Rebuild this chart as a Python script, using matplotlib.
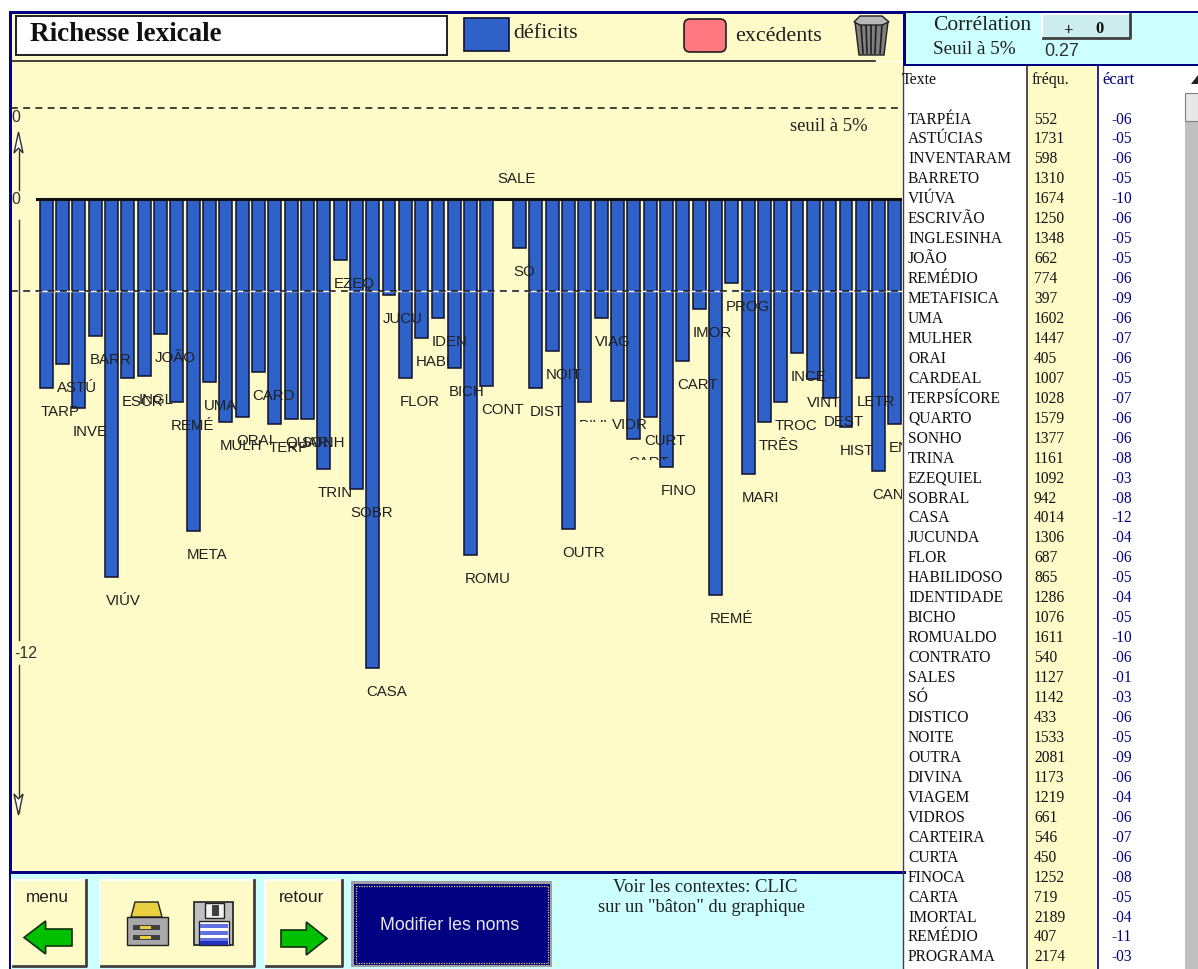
"""Richesse lexicale screen: deficit bars, word table and window controls."""

import matplotlib
matplotlib.use("Agg")
import matplotlib.pyplot as plt
from matplotlib.patches import Rectangle, Polygon, FancyBboxPatch

# Bars (including the ones beyond the visible part of the table)
bar_labels = [
    "TARP", "ASTÚ", "INVE", "BARR", "VIÚV", "ESCR", "INGL", "JOÃO", "REMÉ", "META",
    "UMA", "MULH", "ORAI", "CARD", "TERP", "QUAR", "SONH", "TRIN", "EZEQ", "SOBR",
    "CASA", "JUCU", "FLOR", "HABI", "IDEN", "BICH", "ROMU", "CONT", "SALE", "SÓ",
    "DIST", "NOIT", "OUTR", "DIVI", "VIAG", "VIDR", "CART", "CURT", "FINO", "CART",
    "IMOR", "REMÉ", "PROG", "MARI", "TRÊS", "TROC", "INCE", "VINT", "DEST", "HIST",
    "LETR", "CANT", "ENTR",
]
bar_values = [
    -4.84, -4.22, -5.35, -3.51, -9.67, -4.58, -4.53, -3.45, -5.19, -8.50,
    -4.68, -5.71, -5.58, -4.43, -5.76, -5.63, -5.63, -6.91, -1.56, -7.42,
    -12.00, -2.46, -4.58, -3.56, -3.05, -4.32, -9.11, -4.79, 0.0, -1.25,
    -4.84, -3.89, -8.44, -5.19, -3.05, -5.17, -6.14, -5.58, -6.86, -4.15,
    -2.81, -10.13, -2.15, -7.04, -5.71, -5.19, -3.94, -4.61, -5.09, -5.83,
    -4.58, -6.96, -5.76,
]
threshold_high = 2.33
threshold_low = -2.36

# Side table
table_words = [
    "TARPÉIA", "ASTÚCIAS", "INVENTARAM", "BARRETO", "VIÚVA", "ESCRIVÃO", "INGLESINHA",
    "JOÃO", "REMÉDIO", "METAFISICA", "UMA", "MULHER", "ORAI", "CARDEAL", "TERPSÍCORE",
    "QUARTO", "SONHO", "TRINA", "EZEQUIEL", "SOBRAL", "CASA", "JUCUNDA", "FLOR",
    "HABILIDOSO", "IDENTIDADE", "BICHO", "ROMUALDO", "CONTRATO", "SALES", "SÓ",
    "DISTICO", "NOITE", "OUTRA", "DIVINA", "VIAGEM", "VIDROS", "CARTEIRA", "CURTA",
    "FINOCA", "CARTA", "IMORTAL", "REMÉDIO", "PROGRAMA",
]
table_freq = [
    552, 1731, 598, 1310, 1674, 1250, 1348, 662, 774, 397, 1602, 1447, 405, 1007, 1028,
    1579, 1377, 1161, 1092, 942, 4014, 1306, 687, 865, 1286, 1076, 1611, 540, 1127, 1142,
    433, 1533, 2081, 1173, 1219, 661, 546, 450, 1252, 719, 2189, 407, 2174,
]
table_gap = [
    "-06", "-05", "-06", "-05", "-10", "-06", "-05", "-05", "-06", "-09", "-06", "-07",
    "-06", "-05", "-07", "-06", "-06", "-08", "-03", "-08", "-12", "-04", "-06", "-05",
    "-04", "-05", "-10", "-06", "-01", "-03", "-06", "-05", "-09", "-06", "-04", "-06",
    "-07", "-06", "-08", "-05", "-04", "-11", "-03",
]

YELLOW = "#FFFBC8"
CYAN = "#CCFFFF"
NAVY = "#000080"
BLUE = "#2F62C8"
SERIF = "Liberation Serif"
SANS = "Liberation Sans"
W, H = 1198, 969


def rect(ax, x0, y0, x1, y1, color, edge="none", lw=1.0, z=1):
    ax.add_patch(Rectangle((x0, y0), x1 - x0, y1 - y0, facecolor=color, edgecolor=edge, linewidth=lw, zorder=z))


def button(ax, x0, y0, x1, y1, color=YELLOW):
    rect(ax, x0, y0, x1, y1, color, z=2)
    ax.plot([x0, x0, x1], [y1, y0, y0], color="white", lw=1.5, zorder=3)
    ax.plot([x0 + 1, x1, x1], [y1, y1, y0], color="#404040", lw=2, zorder=3)


def green_arrow(ax, x0, x1, y0, y1, left=True):
    mid = (y0 + y1) / 2
    neck = x0 + (x1 - x0) * 0.45
    pts = [(x0, mid), (neck, y0), (neck, y0 + 8), (x1, y0 + 8), (x1, y1 - 8), (neck, y1 - 8), (neck, y1)]
    if not left:
        pts = [(x0 + x1 - px, py) for px, py in pts]
    ax.add_patch(Polygon(pts, closed=True, facecolor="#00C000", edgecolor="#103010", linewidth=1.2, zorder=4))


fig = plt.figure(figsize=(W / 100, H / 100), dpi=100, facecolor="white")

# Bars live in their own axes, placed so that 0 falls at y=199 px
ax = fig.add_axes([11 / W, 1 - 871 / H, (902 - 11) / W, (871 - 62) / H], facecolor=YELLOW)
px_per_unit = 39.08
pitch = 16.32
ax.set_xlim((11 - 46.3) / pitch, (902 - 46.3) / pitch)
ax.set_ylim(-(871 - 199) / px_per_unit, (199 - 62) / px_per_unit)
ax.axis("off")
ax.add_patch(Rectangle((0, 0), 1, 1, transform=ax.transAxes, facecolor=YELLOW, edgecolor="none", zorder=0))

positions = list(range(len(bar_values)))
ax.bar(positions, bar_values, width=0.79, color=BLUE, edgecolor="#101030", linewidth=1.1, zorder=2)
ax.plot([-0.6, positions[-1] + 1], [0, 0], color="#101010", lw=2.2, zorder=3)

for level in (threshold_high, threshold_low):
    if level < 0:
        ax.axhline(level, color="white", lw=1, zorder=3)
    ax.axhline(level, color="#101010", lw=1.1, dashes=(4.5, 3.5), zorder=3)

labels_drawn = []
for pos, name, value in zip(positions, bar_labels, bar_values):
    offset = -24 if value < 0 else 20
    t = ax.annotate(name, (pos, value), xytext=(-6 * 0.72, offset * 0.72), textcoords="offset points",
                    ha="left", va="center", family=SANS, fontsize=10.8, color="#202020", zorder=5,
                    annotation_clip=False, clip_on=True)
    labels_drawn.append(t)

# Chrome is drawn on a transparent overlay in pixel coordinates
ui = fig.add_axes([0, 0, 1, 1], facecolor="none")
ui.set_xlim(0, W)
ui.set_ylim(H, 0)
ui.axis("off")

# Two labels are mostly overpainted in the original: only their top row is left
labels_drawn[33].set_clip_path(Rectangle((570, 410), 60, 12, transform=ui.transData))
labels_drawn[36].set_clip_path(Rectangle((620, 445), 60, 15, transform=ui.transData))

# Header strip of the chart
rect(ui, 11, 13, 903, 61, YELLOW)
rect(ui, 9, 11, 906, 13.5, NAVY, z=3)
rect(ui, 9, 11, 11.5, 872, NAVY, z=3)
rect(ui, 15.5, 15.5, 446.5, 55, "white", edge="#202020", lw=1.4, z=2)
ui.plot([11, 875], [60.5, 60.5], color="#202020", lw=1.2, zorder=3)
ui.text(30, 34.5, "Richesse lexicale", family=SERIF, fontsize=19.5, fontweight="bold", va="center", color="#101010", zorder=4)
rect(ui, 463.5, 17.5, 508.5, 50.5, BLUE, edge="#101030", lw=1.2, z=2)
ui.text(513, 33, "déficits", family=SERIF, fontsize=15.8, va="center", color="#202020", zorder=4)
ui.add_patch(FancyBboxPatch((684, 19), 42, 33, boxstyle="round,pad=0,rounding_size=6",
                            facecolor="#FF7880", edgecolor="#202020", linewidth=1.2, zorder=2))
ui.text(735, 36.5, "excédents", family=SERIF, fontsize=15.8, va="center", color="#202020", zorder=4)

# Trash can
ui.add_patch(Polygon([(855, 22), (888, 22), (884, 55), (859, 55)], closed=True, facecolor="#808080", edgecolor="#202020", linewidth=1, zorder=3))
for x_top, x_bot in [(861, 863), (866, 867), (871, 871), (876, 875), (882, 880)]:
    ui.plot([x_top, x_bot], [25, 53], color="#202020", lw=1.2, zorder=4)
ui.add_patch(Polygon([(854, 22), (860, 16), (882, 16), (889, 22), (882, 25), (860, 25)], closed=True, facecolor="#B8B8B8", edgecolor="#202020", linewidth=1, zorder=4))

ui.text(790, 126, "seuil à 5%", family=SERIF, fontsize=13.4, va="center", color="#202020", zorder=4)

# Y axis, hand-drawn in the original
ui.plot([18.5, 18.5], [150, 190], color="#303030", lw=1, zorder=3)
ui.plot([18.5, 18.5], [220, 640], color="#303030", lw=1, zorder=3)
ui.plot([18.5, 18.5], [665, 812], color="#303030", lw=1, zorder=3)
ui.add_patch(Polygon([(18.5, 132), (14, 153), (18.5, 148), (23, 153)], closed=True, facecolor="white", edgecolor="#303030", linewidth=1, zorder=4))
ui.add_patch(Polygon([(18.5, 815), (14, 794), (18.5, 799), (23, 794)], closed=True, facecolor="white", edgecolor="#303030", linewidth=1, zorder=4))
ui.text(15.5, 117, "0", family=SANS, fontsize=11.5, ha="center", va="center", color="#303030", zorder=4)
ui.text(15.5, 199.5, "0", family=SANS, fontsize=11.5, ha="center", va="center", color="#303030", zorder=4)
ui.text(14, 653, "-12", family=SANS, fontsize=11.5, va="center", color="#303030", zorder=4)

# Bottom panel
rect(ui, 11, 873, 905, H, CYAN)
rect(ui, 9, 870.5, 906, 873.5, NAVY, z=3)
rect(ui, 9, 873, 11, H, NAVY, z=3)
button(ui, 12, 880, 86, 966)
button(ui, 100, 880, 254, 966)
button(ui, 265, 880, 342, 966)
ui.text(47, 897, "menu", family=SANS, fontsize=12.3, ha="center", va="center", color="#202020", zorder=4)
ui.text(302, 897, "retour", family=SANS, fontsize=12.5, ha="center", va="center", color="#202020", zorder=4)
green_arrow(ui, 24, 72, 921, 954, left=True)
green_arrow(ui, 281, 327, 922, 955, left=False)

# Printer
rect(ui, 127, 917, 168, 945, "#A8A8A8", edge="#202020", z=4)
ui.add_patch(Polygon([(135, 902), (158, 902), (162, 917), (131, 917)], closed=True, facecolor="#E8D040", edgecolor="#202020", linewidth=1, zorder=4))
rect(ui, 133, 925, 160, 930, "#404040", z=5)
rect(ui, 133, 935, 160, 940, "#404040", z=5)
rect(ui, 140, 926, 151, 929, "#E8D040", z=6)
rect(ui, 140, 936, 151, 939, "#E8D040", z=6)

# Floppy
rect(ui, 194, 902, 233, 945, "#C0C0C0", edge="#202020", lw=1.2, z=4)
rect(ui, 205, 903, 224, 918, "#F0F0F0", edge="#202020", z=5)
rect(ui, 212, 905, 219, 916, "#404040", z=6)
rect(ui, 199, 921, 229, 945, "white", edge="#202020", z=5)
for y_stripe in (924, 931, 938):
    rect(ui, 200, y_stripe, 228, y_stripe + 3.5, "#6070E0", z=6)
rect(ui, 200, 941, 228, 945, "#2030C0", z=6)

# "Modifier les noms" button
rect(ui, 351, 881, 552, 967, "#A0A0A0", z=2)
rect(ui, 354, 884, 550, 965, NAVY, z=3)
rect(ui, 356, 886, 548, 963, "none", edge="#E0D060", lw=0.9, z=4)
ui.patches[-1].set_linestyle((0, (1, 1)))
ui.text(449.5, 925, "Modifier les noms", family=SANS, fontsize=12.8, ha="center", va="center", color="#E8E8F0", zorder=5)
ui.text(705, 887, "Voir les contextes: CLIC", family=SERIF, fontsize=13.4, ha="center", va="center", color="#202020", zorder=4)
ui.text(701, 908, 'sur un "bâton" du graphique', family=SERIF, fontsize=13.2, ha="center", va="center", color="#202020", zorder=4)

# Correlation panel
rect(ui, 906, 13, W, 64, CYAN)
rect(ui, 903, 11, 906, 66, NAVY, z=3)
rect(ui, 903, 64, W, 66, NAVY, z=3)
rect(ui, 906, 11, W, 13, NAVY, z=3)
ui.text(933, 25.5, "Corrélation", family=SERIF, fontsize=15.5, va="center", color="#202020", zorder=4)
ui.text(933, 49, "Seuil à 5%", family=SERIF, fontsize=13.8, va="center", color="#202020", zorder=4)
button(ui, 1042, 14, 1130, 38, color="#CCEEEE")
ui.text(1068, 31, "+", family=SERIF, fontsize=12, fontweight="bold", ha="center", va="center", color="#101010", zorder=4)
ui.text(1099, 29, "0", family=SERIF, fontsize=12, fontweight="bold", ha="center", va="center", color="#101010", zorder=4)
ui.text(1044, 51, "0.27", family=SANS, fontsize=13, va="center", color="#303030", zorder=4)

# Word table
rect(ui, 903, 66, W, H, "white")
rect(ui, 1027, 66, 1097, H, YELLOW, z=1)
ui.plot([1026.5, 1026.5], [66, H], color="#303030", lw=1.2, zorder=3)
ui.plot([1097.5, 1097.5], [66, H], color=NAVY, lw=1.2, zorder=3)
ui.plot([903, 903], [66, H], color="#404040", lw=1, zorder=3)
rect(ui, 1185, 93, W, H, "#C0C0C0", z=2)
ui.add_patch(Polygon([(1198, 75), (1191, 84), (1198, 84)], closed=True, facecolor="#202020", edgecolor="none", zorder=3))
rect(ui, 1185, 93, W, 121, "#E8E8E8", edge="#808080", lw=0.8, z=3)
ui.text(902, 80, "Texte", family=SERIF, fontsize=11.5, va="center", color="#101010", zorder=4)
ui.text(1032, 80, "fréqu.", family=SERIF, fontsize=11.5, va="center", color="#101010", zorder=4)
ui.text(1102, 80, "écart", family=SERIF, fontsize=12, va="center", color=NAVY, zorder=4)

row_y = 119.5
for word, freq, gap in zip(table_words, table_freq, table_gap):
    ui.text(908, row_y, word, family=SERIF, fontsize=11.2, va="center", color="#101010", zorder=4)
    ui.text(1034, row_y, str(freq), family=SERIF, fontsize=11.2, va="center", color="#101010", zorder=4)
    ui.text(1132, row_y, gap, family=SERIF, fontsize=11.2, ha="right", va="center", color=NAVY, zorder=4)
    row_y += 19.95

fig.savefig("out.png", dpi=100)
plt.close(fig)
